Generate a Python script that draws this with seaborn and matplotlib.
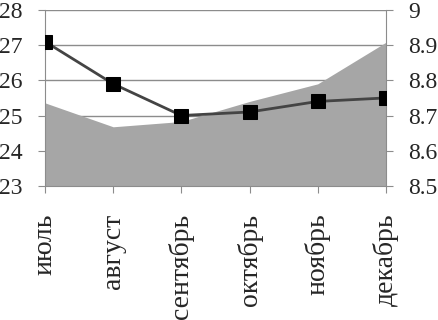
import numpy as np
import pandas as pd
import matplotlib
matplotlib.use('Agg')
import matplotlib.pyplot as plt
import seaborn as sns

# данные
months = ['июль', 'август', 'сентябрь', 'октябрь', 'ноябрь', 'декабрь']
line_vals = [27.1, 25.9, 25.0, 25.1, 25.4, 25.5]      # левая ось
area_vals = [8.736, 8.668, 8.683, 8.740, 8.790, 8.908]  # правая ось

sns.set_style('white')
plt.rcParams['font.family'] = ['Liberation Serif', 'DejaVu Serif']
plt.rcParams['font.size'] = 17

df = pd.DataFrame({'x': np.arange(len(months)), 'line': line_vals, 'area': area_vals})

fig = plt.figure(figsize=(4.39, 3.2), dpi=100)
ax = fig.add_axes([0.1025, 0.419, 0.7765, 0.55])
ax2 = ax.twinx()

# область (правая ось) поверх сетки
ax.set_ylim(8.5, 9.0)
ax.set_yticks(np.arange(8.5, 9.01, 0.1))
ax.set_yticklabels(['8.5', '8.6', '8.7', '8.8', '8.9', '9'])
ax.grid(axis='y', color='#8c8c8c', linewidth=1)
ax.set_axisbelow(True)
ax.fill_between(df['x'], 8.5, df['area'], color='#a6a6a6', linewidth=0, zorder=2)

# линия (левая ось)
sns.lineplot(data=df, x='x', y='line', ax=ax2, color='#444444', linewidth=2,
             marker='s', markersize=10, markerfacecolor='black',
             markeredgecolor='black', zorder=5)
ax2.set_ylim(23, 28)
ax2.set_yticks(range(23, 29))
ax2.set_ylabel('')
ax2.set_xlabel('')

ax.set_xlim(0, len(months) - 1)
ax.set_xticks(df['x'])
ax.set_xticklabels(months, rotation=90, fontsize=20)

for a in (ax, ax2):
    for s in a.spines.values():
        s.set_visible(False)

ax.yaxis.tick_right()
ax2.yaxis.tick_left()
ax2.yaxis.set_label_position('left')

for side in ('left', 'right', 'bottom'):
    ax2.spines[side].set_visible(True)
    ax2.spines[side].set_color('#8c8c8c')

ax.tick_params(axis='y', right=True, labelright=True, left=False, labelleft=False,
               length=5, color='#8c8c8c', pad=11)
ax2.tick_params(axis='y', left=True, labelleft=True, right=False, labelright=False,
                length=5, color='#8c8c8c', pad=11)
ax.tick_params(axis='x', bottom=True, length=5, color='#8c8c8c', pad=15)

fig.savefig('out.png', dpi=100)
